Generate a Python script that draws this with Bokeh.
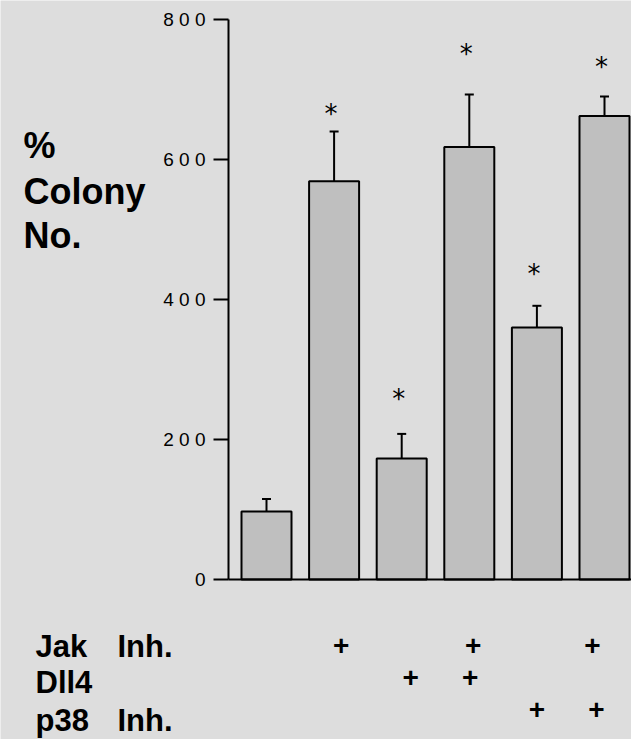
from bokeh.plotting import figure
from bokeh.models import LinearAxis, FixedTicker, Whisker, TeeHead, ColumnDataSource
from bokeh.core.properties import value
from bokeh.embed import file_html
from bokeh.resources import INLINE

# ---- data -------------------------------------------------------------
conditions = ["Control", "Jak Inh.", "Dll4", "Jak Inh. + Dll4", "p38 Inh.", "Jak Inh. + p38 Inh."]
colony_pct = [97, 569, 173, 618, 360, 662]
colony_sem = [18, 71, 35, 75, 31, 28]
significant = [False, True, True, True, True, True]

jak_inh = [False, True, False, True, False, True]
dll4 = [False, False, True, True, False, False]
p38_inh = [False, False, False, False, True, True]

y_ticks = [0, 200, 400, 600, 800]
y_tick_labels = ["0", "2 0 0", "4 0 0", "6 0 0", "8 0 0"]

# ---- canvas geometry (pixels) ----------------------------------------
W, H = 631, 739
PX_PER_Y = 0.7          # pixels per % unit
BASE_ROW = 579          # pixel row of y = 0
PX_PER_X = 67.6         # pixels between neighbouring bars
FIRST_COL = 266         # pixel column of the first bar centre
AXIS_COL = 228          # pixel column of the y axis line

x_start = 1 - FIRST_COL / PX_PER_X
x_end = 1 + (W - FIRST_COL) / PX_PER_X
y_start = -(H - BASE_ROW) / PX_PER_Y
y_end = BASE_ROW / PX_PER_Y


def sx(px):
    return x_start + px / PX_PER_X


def sy(py):
    return y_end - py / PX_PER_Y


BG = "#dddddd"
BAR = "#bfbfbf"
INK = "black"
BOLD = value("Liberation Sans")

p = figure(width=W, height=H, x_range=(x_start, x_end), y_range=(y_start, y_end),
           x_axis_location=None, y_axis_location=None, toolbar_location=None,
           output_backend="svg", min_border=0)
p.background_fill_color = BG
p.border_fill_color = BG
p.outline_line_color = None
p.grid.visible = False

# ---- axes ---------------------------------------------------------------
axis_x = sx(AXIS_COL)
yaxis = LinearAxis(fixed_location=axis_x, bounds=(0, 800),
                   ticker=FixedTicker(ticks=y_ticks),
                   major_label_overrides=dict(zip(y_ticks, y_tick_labels)),
                   axis_line_width=2, axis_line_color=INK,
                   major_tick_line_width=2, major_tick_line_color=INK,
                   major_tick_out=15, major_tick_in=0,
                   minor_tick_out=0, minor_tick_in=0,
                   major_label_standoff=8,
                   major_label_text_font="Liberation Sans",
                   major_label_text_font_size="19px",
                   major_label_text_color=INK)
p.add_layout(yaxis, "left")

xaxis = LinearAxis(fixed_location=0, bounds=(axis_x, x_end),
                   ticker=FixedTicker(ticks=[]),
                   axis_line_width=2, axis_line_color=INK,
                   major_tick_out=0, major_tick_in=0,
                   minor_tick_out=0, minor_tick_in=0,
                   major_label_text_font_size="0px")
p.add_layout(xaxis, "below")

# ---- bars and error bars -----------------------------------------------
xs = list(range(1, len(colony_pct) + 1))
src = ColumnDataSource(dict(
    x=xs,
    top=colony_pct,
    upper=[m + s for m, s in zip(colony_pct, colony_sem)],
))
p.vbar(x="x", top="top", bottom=0, width=50 / PX_PER_X, source=src,
       fill_color=BAR, line_color=INK, line_width=2)

p.add_layout(Whisker(source=src, base="x", lower="top", upper="upper",
                     line_color=INK, line_width=2,
                     upper_head=TeeHead(size=9, line_color=INK, line_width=2),
                     lower_head=None))

# ---- significance stars -------------------------------------------------
star_lift_px = [0, 24, 41, 46, 38, 36]   # gap above each error bar
STAR_FS = 26
star_x, star_y = [], []
for i, sig in enumerate(significant):
    if sig:
        star_x.append(xs[i])
        centre = colony_pct[i] + colony_sem[i] + star_lift_px[i] / PX_PER_Y
        star_y.append(centre - 6 / PX_PER_Y)
p.text(x=star_x, y=star_y, text=["*"] * len(star_x), x_offset=-3,
       text_font=value("DejaVu Sans"), text_font_size=f"{STAR_FS}px",
       text_align="center", text_baseline="middle", text_color=INK)

# ---- y axis title ---------------------------------------------------------
p.text(x=[sx(23)] * 3, y=[sy(145), sy(190.5), sy(234.5)], text=["%", "Colony", "No."],
       text_font=BOLD, text_font_style="bold", text_font_size="36px",
       text_align="left", text_baseline="middle", text_color=INK)

# ---- treatment table below the bars -------------------------------------
row_names = [("Jak", "Inh."), ("Dll4", ""), ("p38", "Inh.")]
row_mid = [645.5, 681.5, 719.5]
for (name, suffix), mid in zip(row_names, row_mid):
    p.text(x=[sx(35)], y=[sy(mid)], text=[name],
           text_font=BOLD, text_font_style="bold", text_font_size="31px",
           text_align="left", text_baseline="middle", text_color=INK)
    if suffix:
        p.text(x=[sx(117)], y=[sy(mid)], text=[suffix],
               text_font=BOLD, text_font_style="bold", text_font_size="31px",
               text_align="left", text_baseline="middle", text_color=INK)

plus_rows = [jak_inh, dll4, p38_inh]
plus_centre = [645, 677, 709]
plus_nudge = [[0, 7, 0, 4, 0, -12],
              [0, 0, 9, 1, 0, 0],
              [0, 0, 0, 0, 0, -8]]
for flags, cy, nudge in zip(plus_rows, plus_centre, plus_nudge):
    px_ = [xs[i] for i, f in enumerate(flags) if f]
    dx = [nudge[i] for i, f in enumerate(flags) if f]
    p.text(x=px_, y=[sy(cy)] * len(px_), text=["+"] * len(px_), x_offset=dx,
           text_font=BOLD, text_font_style="bold", text_font_size="28px",
           text_align="center", text_baseline="middle", text_color=INK)

open("out.html", "w").write(file_html(p, INLINE))
